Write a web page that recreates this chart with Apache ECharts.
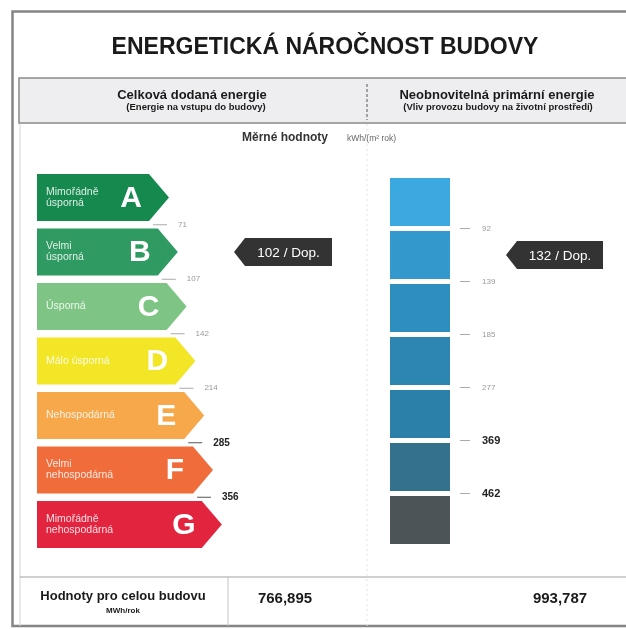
<!DOCTYPE html>
<html>
<head>
<meta charset="utf-8">
<script src="https://cdn.jsdelivr.net/npm/echarts@6/dist/echarts.min.js"></script>
<style>
  html, body { margin: 0; padding: 0; background: #fff; }
  #chart { width: 626px; height: 629px; }
</style>
</head>
<body>
<div id="chart"></div>
<script>
// Data of the label
var tridy = ['A', 'B', 'C', 'D', 'E', 'F', 'G'];
var popisy = [
  'Mimořádně\núsporná',
  'Velmi\núsporná',
  'Úsporná',
  'Málo úsporná',
  'Nehospodárná',
  'Velmi\nnehospodárná',
  'Mimořádně\nnehospodárná'
];
var hraniceDodana = [71, 107, 142, 214, 285, 356];
var hranicePrimarni = [92, 139, 185, 277, 369, 462];
var hodnotaDodana = 102;
var hodnotaPrimarni = 132;
var celkemDodana = '766,895';
var celkemPrimarni = '993,787';

// Colours
var barvySipek = ['#16894f', '#2f9a62', '#7ec585', '#f2e626', '#f6a84a', '#f06c3b', '#e3243f'];
var barvyModre = ['#3ba8e0', '#3399cc', '#2e8fbe', '#2d86b1', '#2b80aa', '#33718c', '#4b5558'];
var pismo = '"Liberation Sans", Arial, sans-serif';

// Class index of a value for given boundaries
function tridaPro(hodnota, hranice) {
  var i = 0;
  while (i < hranice.length && hodnota > hranice[i]) i++;
  return i;
}

// tip of left arrow i, relative to grid left
function hrotSipky(i) {
  return 132 + i * 8.8;
}

function sipka(params, api) {
  var i = api.value(1);
  var stred = api.coord([0, i]);
  var pas = api.size([0, 1])[1];
  var h = pas * 0.862;
  var x0 = stred[0];
  var hrot = x0 + hrotSipky(i);
  var top = stred[1] - h / 2;
  var bot = stred[1] + h / 2;
  return {
    type: 'group',
    children: [
      {
        type: 'polygon',
        shape: { points: [[x0, top], [hrot - 20, top], [hrot, stred[1]], [hrot - 20, bot], [x0, bot]] },
        style: { fill: barvySipek[i] }
      },
      {
        type: 'text', x: hrot - 38, y: stred[1] + 1,
        style: { text: tridy[i], fill: '#fff', font: 'bold 30px ' + pismo, align: 'center', verticalAlign: 'middle' }
      },
      {
        type: 'text', x: x0 + 9, y: stred[1],
        style: { text: popisy[i], fill: 'rgba(255,255,255,0.85)', font: '10.5px ' + pismo, verticalAlign: 'middle', lineHeight: 11 }
      }
    ]
  };
}

function hraniceVlevo(params, api) {
  var i = api.value(1);
  var stred = api.coord([0, i]);
  var pas = api.size([0, 1])[1];
  var y = stred[1] + pas / 2;
  var hrot = stred[0] + hrotSipky(i);
  var tucne = i >= 4;
  return {
    type: 'group',
    children: [
      {
        type: 'line', shape: { x1: hrot - 16, y1: y, x2: hrot - 2, y2: y },
        style: { stroke: tucne ? '#555' : '#aaa', lineWidth: 1 }
      },
      {
        type: 'text', x: hrot + 9, y: y,
        style: {
          text: String(api.value(2)),
          fill: tucne ? '#222' : '#999',
          font: (tucne ? 'bold 10px ' : '8px ') + pismo,
          verticalAlign: 'middle'
        }
      }
    ]
  };
}

function hraniceVpravo(params, api) {
  var i = api.value(1);
  var stred = api.coord([1, i]);
  var pas = api.size([0, 1])[1];
  var y = stred[1] + pas / 2;
  var x = stred[0];
  var tucne = i >= 4;
  return {
    type: 'group',
    children: [
      {
        type: 'line', shape: { x1: x + 10, y1: y, x2: x + 20, y2: y },
        style: { stroke: '#aaa', lineWidth: 1 }
      },
      {
        type: 'text', x: x + 32, y: y,
        style: {
          text: String(api.value(2)),
          fill: tucne ? '#222' : '#999',
          font: (tucne ? 'bold 11px ' : '8px ') + pismo,
          verticalAlign: 'middle'
        }
      }
    ]
  };
}

// dark marker "xxx / Dop."
function ukazatel(od, sirka) {
  return function (params, api) {
    var i = api.value(1);
    var stred = api.coord([0, i]);
    var x = stred[0] + od;
    var y = stred[1];
    var h = 28;
    return {
      type: 'group',
      children: [
        {
          type: 'polygon',
          shape: { points: [[x, y], [x + 11, y - h / 2], [x + sirka, y - h / 2], [x + sirka, y + h / 2], [x + 11, y + h / 2]] },
          style: { fill: '#333' }
        },
        {
          type: 'text', x: x + 11 + (sirka - 11) / 2, y: y + 1,
          style: { text: api.value(2) + ' / Dop.', fill: '#fff', font: '13.5px ' + pismo, align: 'center', verticalAlign: 'middle' }
        }
      ]
    };
  };
}

var myChart = echarts.init(document.getElementById('chart'));

var option = {
  animation: false,
  backgroundColor: '#fff',
  grid: [
    { left: 37, top: 170.25, width: 200, height: 381.5 },
    { left: 390, top: 175.5, width: 60, height: 371 }
  ],
  xAxis: [
    { gridIndex: 0, type: 'value', min: 0, max: 1, show: false },
    { gridIndex: 1, type: 'value', min: 0, max: 1, show: false }
  ],
  yAxis: [
    { gridIndex: 0, type: 'category', data: tridy, inverse: true, show: false },
    { gridIndex: 1, type: 'category', data: tridy, inverse: true, show: false }
  ],
  graphic: [
    // frame
    { type: 'rect', shape: { x: 12.5, y: 11.5, width: 640, height: 614.5 }, style: { fill: 'none', stroke: '#858585', lineWidth: 2.5 } },
    { type: 'line', shape: { x1: 20, y1: 123, x2: 20, y2: 626 }, style: { stroke: '#d4d4d4', lineWidth: 1 } },
    // header band
    { type: 'rect', shape: { x: 19, y: 78, width: 620, height: 45 }, style: { fill: '#eeeef1', stroke: '#8a8a8a', lineWidth: 1.5 } },
    { type: 'line', shape: { x1: 367, y1: 84, x2: 367, y2: 120 }, style: { stroke: '#555', lineWidth: 1, lineDash: [3, 2] } },
    { type: 'line', shape: { x1: 367, y1: 124, x2: 367, y2: 626 }, style: { stroke: '#e2e2e2', lineWidth: 1, lineDash: [2, 3] } },
    // title
    { type: 'text', x: 325, y: 48, style: { text: 'ENERGETICKÁ NÁROČNOST BUDOVY', fill: '#1a1a1a', font: 'bold 23px ' + pismo, align: 'center', verticalAlign: 'middle' } },
    { type: 'text', x: 192, y: 95, style: { text: 'Celková dodaná energie', fill: '#1a1a1a', font: 'bold 13px ' + pismo, align: 'center', verticalAlign: 'middle' } },
    { type: 'text', x: 196, y: 107, style: { text: '(Energie na vstupu do budovy)', fill: '#1a1a1a', font: 'bold 9.5px ' + pismo, align: 'center', verticalAlign: 'middle' } },
    { type: 'text', x: 497, y: 95, style: { text: 'Neobnovitelná primární energie', fill: '#1a1a1a', font: 'bold 13px ' + pismo, align: 'center', verticalAlign: 'middle' } },
    { type: 'text', x: 498, y: 107, style: { text: '(Vliv provozu budovy na životní prostředí)', fill: '#1a1a1a', font: 'bold 9.5px ' + pismo, align: 'center', verticalAlign: 'middle' } },
    { type: 'text', x: 285, y: 138, style: { text: 'Měrné hodnoty', fill: '#333', font: 'bold 12px ' + pismo, align: 'center', verticalAlign: 'middle' } },
    { type: 'text', x: 347, y: 139, style: { text: 'kWh/(m² rok)', fill: '#666', font: '8.5px ' + pismo, verticalAlign: 'middle' } },
    // bottom row
    { type: 'line', shape: { x1: 20, y1: 577, x2: 640, y2: 577 }, style: { stroke: '#a0a0a0', lineWidth: 1 } },
    { type: 'line', shape: { x1: 228, y1: 577, x2: 228, y2: 626 }, style: { stroke: '#c4c4c4', lineWidth: 1 } },
    { type: 'text', x: 123, y: 596, style: { text: 'Hodnoty pro celou budovu', fill: '#1a1a1a', font: 'bold 13px ' + pismo, align: 'center', verticalAlign: 'middle' } },
    { type: 'text', x: 123, y: 611, style: { text: 'MWh/rok', fill: '#1a1a1a', font: 'bold 8px ' + pismo, align: 'center', verticalAlign: 'middle' } },
    { type: 'text', x: 285, y: 599, style: { text: celkemDodana, fill: '#1a1a1a', font: 'bold 15px ' + pismo, align: 'center', verticalAlign: 'middle' } },
    { type: 'text', x: 560, y: 599, style: { text: celkemPrimarni, fill: '#1a1a1a', font: 'bold 15px ' + pismo, align: 'center', verticalAlign: 'middle' } }
  ],
  series: [
    {
      type: 'custom',
      xAxisIndex: 0,
      yAxisIndex: 0,
      renderItem: sipka,
      encode: { x: 0, y: 1 },
      data: tridy.map(function (t, i) { return [0, i]; })
    },
    {
      type: 'custom',
      xAxisIndex: 0,
      yAxisIndex: 0,
      renderItem: hraniceVlevo,
      encode: { x: 0, y: 1 },
      data: hraniceDodana.map(function (h, i) { return [0, i, h]; })
    },
    {
      type: 'bar',
      xAxisIndex: 1,
      yAxisIndex: 1,
      barCategoryGap: '9.4%',
      data: tridy.map(function (t, i) {
        return { value: 1, itemStyle: { color: barvyModre[i] } };
      })
    },
    {
      type: 'custom',
      xAxisIndex: 1,
      yAxisIndex: 1,
      renderItem: hraniceVpravo,
      encode: { x: 0, y: 1 },
      data: hranicePrimarni.map(function (h, i) { return [1, i, h]; })
    },
    {
      type: 'custom',
      xAxisIndex: 0,
      yAxisIndex: 0,
      renderItem: ukazatel(197, 98),
      encode: { x: 0, y: 1 },
      data: [[0, tridaPro(hodnotaDodana, hraniceDodana), hodnotaDodana]]
    },
    {
      type: 'custom',
      xAxisIndex: 1,
      yAxisIndex: 1,
      renderItem: ukazatel(116, 97),
      encode: { x: 0, y: 1 },
      data: [[0, tridaPro(hodnotaPrimarni, hranicePrimarni), hodnotaPrimarni]]
    }
  ]
};

myChart.setOption(option);
</script>
</body>
</html>
